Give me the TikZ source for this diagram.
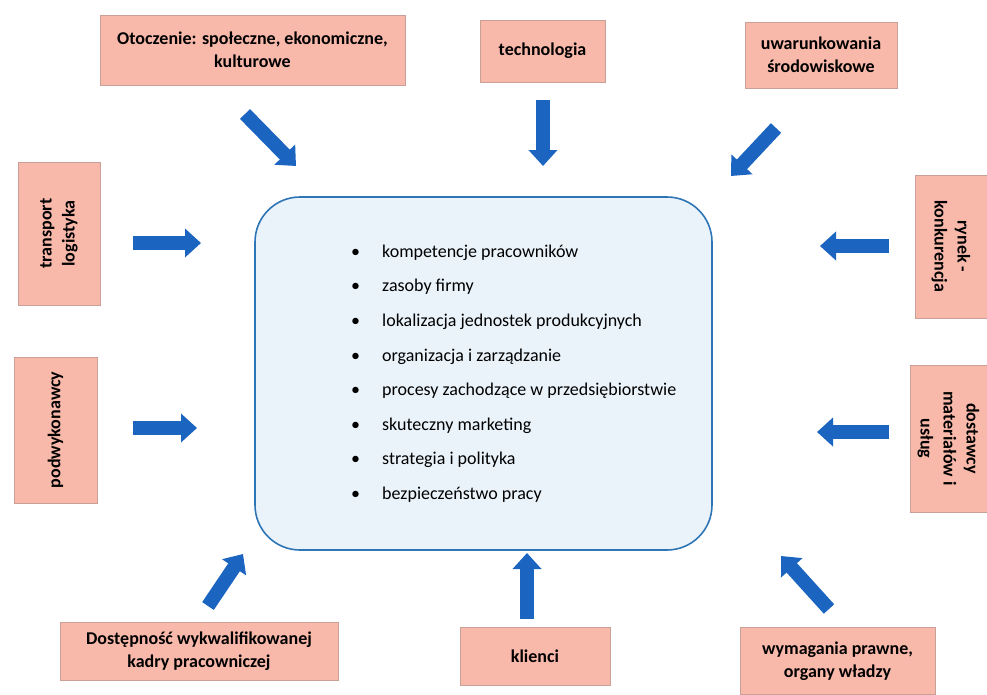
\documentclass[tikz,border=0pt]{standalone}
\usepackage{fontspec}
\setmainfont{Carlito}
\usetikzlibrary{arrows.meta}
\definecolor{boxpink}{HTML}{F8B8AA}
\definecolor{boxedge}{HTML}{C9A097}
\definecolor{corefill}{HTML}{EAF3FA}
\definecolor{coreedge}{HTML}{2E75B6}
\definecolor{arrowblue}{HTML}{1B64C0}
\tikzset{
  factor/.style={draw=boxedge, line width=0.6pt, fill=boxpink, font=\bfseries\fontsize{18}{23}\selectfont, align=center, inner sep=2pt},
  blockarrow/.style={draw=arrowblue, line width=14pt, -{Triangle[width=28pt,length=16pt]}},
}
\begin{document}
\begin{tikzpicture}[x=1pt,y=-1pt]
\useasboundingbox (0,0) rectangle (987,694);
% central box
\node[draw=coreedge, line width=1.6pt, fill=corefill, rounded corners=45pt, minimum width=457pt, minimum height=353pt] (core) at (483.5,373.5) {};
\node[anchor=west, align=left, font=\fontsize{18}{34.6}\selectfont, inner sep=0pt] (list) at (351,373.5) {%
\makebox[31pt][l]{\textbullet}kompetencje pracowników\\
\makebox[31pt][l]{\textbullet}zasoby firmy\\
\makebox[31pt][l]{\textbullet}lokalizacja jednostek produkcyjnych\\
\makebox[31pt][l]{\textbullet}organizacja i zarządzanie\\
\makebox[31pt][l]{\textbullet}procesy zachodzące w przedsiębiorstwie\\
\makebox[31pt][l]{\textbullet}skuteczny marketing\\
\makebox[31pt][l]{\textbullet}strategia i polityka\\
\makebox[31pt][l]{\textbullet}bezpieczeństwo pracy};
% factor boxes
\node[factor, minimum width=305pt, minimum height=70pt] (otoczenie) at (252.5,50) {Otoczenie: społeczne, ekonomiczne,\\kulturowe};
\node[factor, minimum width=125pt, minimum height=62pt] (techno) at (542.5,51) {technologia};
\node[factor, minimum width=152pt, minimum height=66pt] (uwar) at (821,55) {uwarunkowania\\środowiskowe};
\node[factor, rotate=90, minimum width=143pt, minimum height=82pt] (transport) at (59,233.5) {transport\\logistyka};
\node[factor, rotate=90, minimum width=146pt, minimum height=83pt] (podwyk) at (55.5,430) {podwykonawcy};
\node[factor, rotate=-90, minimum width=143pt, minimum height=72pt] (rynek) at (951,246.5) {rynek -\\konkurencja};
\node[factor, rotate=-90, minimum width=147pt, minimum height=77pt] (dostawcy) at (948.5,438.5) {dostawcy\\materiałów i\\usług};
\node[factor, minimum width=278pt, minimum height=58pt] (dostep) at (199,651) {Dostępność wykwalifikowanej\\kadry pracowniczej};
\node[factor, minimum width=150pt, minimum height=58pt] (klienci) at (535,656) {klienci};
\node[factor, minimum width=195pt, minimum height=67pt] (wymag) at (837.5,661) {wymagania prawne,\\organy władzy};
% arrow end points
\coordinate (a1s) at (245,114); \coordinate (a1e) at (296,166);
\coordinate (a2s) at (543,100); \coordinate (a2e) at (543,166);
\coordinate (a3s) at (776,128); \coordinate (a3e) at (731,176);
\coordinate (a4s) at (133,243); \coordinate (a4e) at (201,243);
\coordinate (a5s) at (133,428); \coordinate (a5e) at (197,428);
\coordinate (a6s) at (889,246); \coordinate (a6e) at (820,246);
\coordinate (a7s) at (889,432); \coordinate (a7e) at (817,432);
\coordinate (a8s) at (208,606); \coordinate (a8e) at (243,554);
\coordinate (a9s) at (527,619); \coordinate (a9e) at (527,553);
\coordinate (a10s) at (829,609); \coordinate (a10e) at (781,556);
\foreach \i in {1,...,10} \draw[blockarrow] (a\i s) -- (a\i e);
\end{tikzpicture}
\end{document}
